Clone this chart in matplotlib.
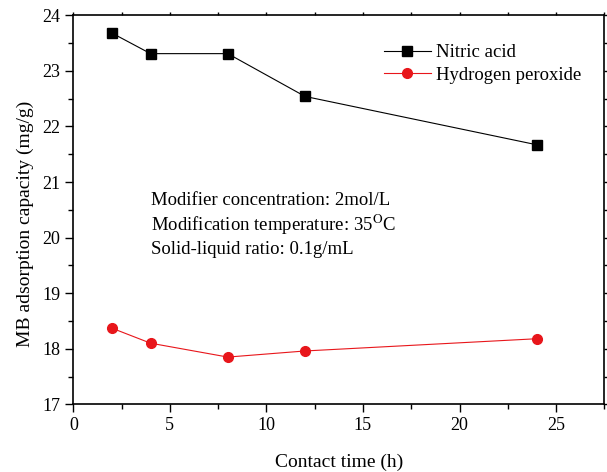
import matplotlib
matplotlib.use("Agg")
import matplotlib.pyplot as plt
from matplotlib.ticker import MultipleLocator

plt.rcParams['font.family'] = ['Liberation Serif', 'DejaVu Serif']
plt.rcParams['mathtext.fontset'] = 'stix'

# Contact time (h)
time_h = [2, 4, 8, 12, 24]
# MB adsorption capacity (mg/g)
nitric_acid = [23.68, 23.31, 23.31, 22.54, 21.67]
hydrogen_peroxide = [18.37, 18.10, 17.85, 17.96, 18.18]

series_labels = ["Nitric acid", "Hydrogen peroxide"]
x_label = "Contact time (h)"
y_label = "MB adsorption capacity (mg/g)"
conditions = [
    "Modifier concentration: 2mol/L",
    r"Modification temperature: 35$^{\mathrm{O}}$C",
    "Solid-liquid ratio: 0.1g/mL",
]

fig = plt.figure(figsize=(6.07, 4.72), dpi=100)
ax = fig.add_axes([0.1208, 0.1434, 0.8748, 0.8242])

ax.plot(time_h, nitric_acid, color='black', lw=0.8, marker='s', ms=6.5,
        mfc='black', mec='black', label=series_labels[0])
ax.plot(time_h, hydrogen_peroxide, color='#e8161b', lw=0.8, marker='o', ms=7,
        mfc='#e8161b', mec='#e8161b', label=series_labels[1])

ax.set_xlim(0, 27.5)
ax.set_ylim(17, 24)
ax.xaxis.set_major_locator(MultipleLocator(5))
ax.xaxis.set_minor_locator(MultipleLocator(2.5))
ax.yaxis.set_major_locator(MultipleLocator(1))
ax.yaxis.set_minor_locator(MultipleLocator(0.5))

for s in ax.spines.values():
    s.set_linewidth(1.2)

ax.tick_params(axis='both', which='major', direction='out', length=6, width=1,
               labelsize=13, top=True, right=True)
ax.tick_params(axis='both', which='minor', direction='out', length=3.5, width=1,
               top=True, right=True)
ax.tick_params(axis='x', which='major', pad=3)
# short ticks on the top and right frame
for t in ax.xaxis.get_major_ticks() + ax.xaxis.get_minor_ticks():
    t.tick2line.set_markersize(2)
for t in ax.yaxis.get_major_ticks() + ax.yaxis.get_minor_ticks():
    t.tick2line.set_markersize(2)

ax.set_xlabel(x_label, fontsize=14, labelpad=14)
ax.set_ylabel(y_label, fontsize=14)
ax.yaxis.set_label_coords(-0.074, 0.465)

leg = ax.legend(loc='upper right', bbox_to_anchor=(0.978, 0.955), frameon=False,
                fontsize=13.5, handlelength=2.5, handletextpad=0.3,
                labelspacing=0.3, borderaxespad=0.2)

for i, line in enumerate(conditions):
    ax.text(0.146, 0.525 - i * 0.0635, line, transform=ax.transAxes,
            fontsize=13.5, ha='left', va='center')

fig.savefig("out.png", dpi=100)
